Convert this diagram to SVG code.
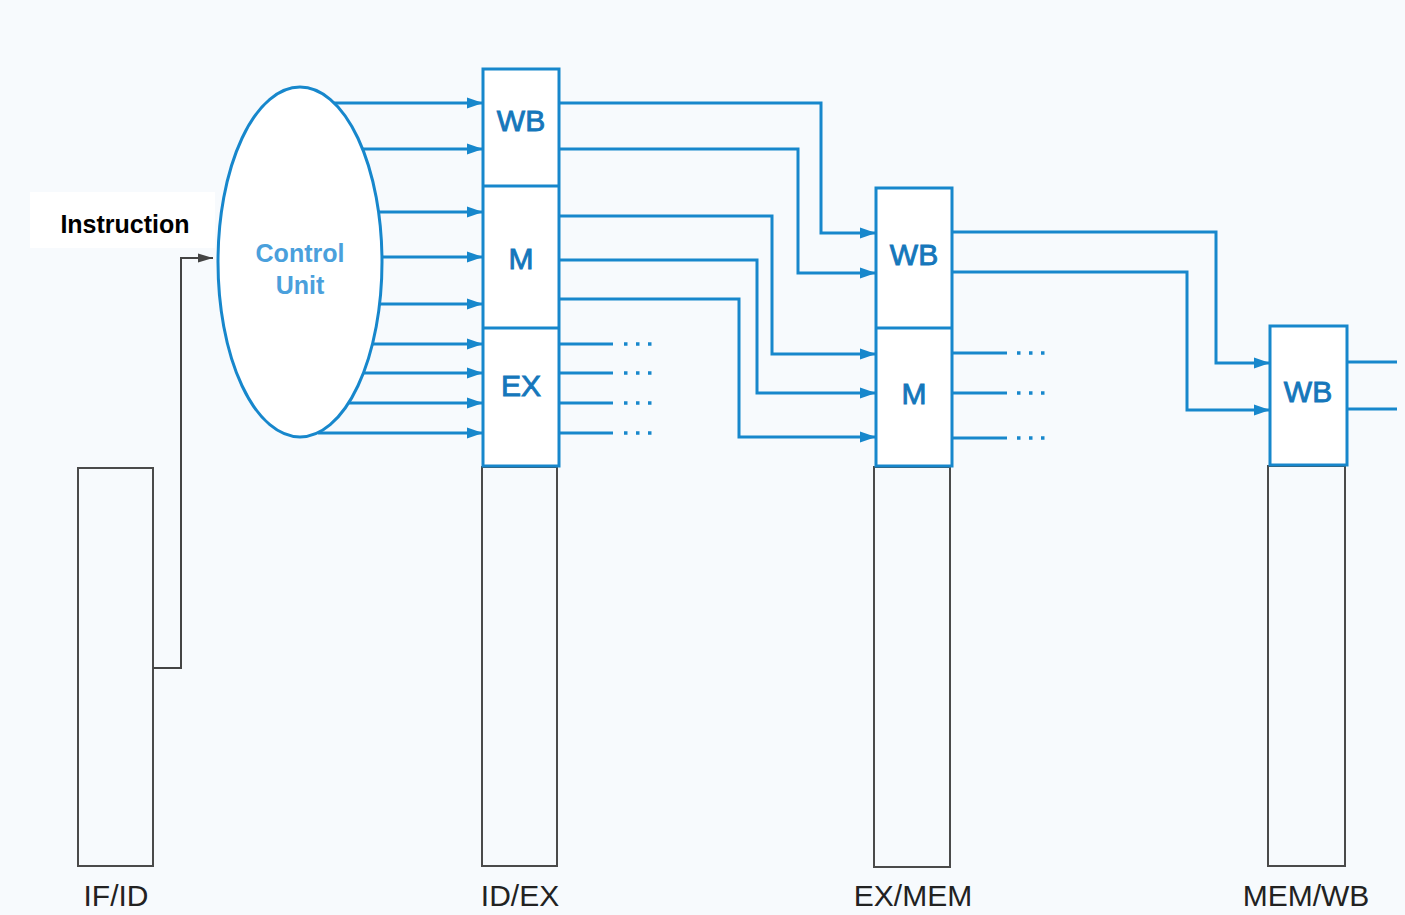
<svg xmlns="http://www.w3.org/2000/svg" width="1405" height="915" viewBox="0 0 1405 915">
  <defs>
    <marker id="ab" markerWidth="17" markerHeight="12" refX="16" refY="6" orient="auto" markerUnits="userSpaceOnUse">
      <path d="M0,0.5 L16,6 L0,11.5 Z" fill="#1787cc"/>
    </marker>
    <marker id="ag" markerWidth="16" markerHeight="12" refX="15" refY="6" orient="auto" markerUnits="userSpaceOnUse">
      <path d="M0,1.5 L15,6 L0,10.5 Z" fill="#444"/>
    </marker>
  </defs>
  <style>
    .bl { fill: none; stroke: #1787cc; stroke-width: 3; }
    .ba { fill: none; stroke: #1787cc; stroke-width: 3; marker-end: url(#ab); }
    .dots { fill: none; stroke: #1787cc; stroke-width: 3.5; stroke-dasharray: 3.5 8.5; }
    .gbox { fill: none; stroke: #4a4a4a; stroke-width: 2; }
    .bbox { fill: #ffffff; stroke: #1787cc; stroke-width: 3; }
    .lbl { font-family: "Liberation Sans", Arial, sans-serif; font-size: 30px; fill: #1577bb; stroke: #1577bb; stroke-width: 0.9; text-anchor: middle; }
    .reg { font-family: "Liberation Sans", Arial, sans-serif; font-size: 30px; fill: #222; text-anchor: middle; }
  </style>
  <rect x="0" y="0" width="1405" height="915" fill="#f7fafd"/>
  <rect x="30" y="192" width="185" height="56" fill="#ffffff"/>

  <g id="if-id">
    <rect class="gbox" x="78" y="468" width="75" height="398"/>
    <text class="reg" x="116" y="906">IF/ID</text>
  </g>

  <g id="instruction">
    <text x="125" y="233" font-family="Liberation Sans, Arial, sans-serif" font-size="25" font-weight="bold" fill="#000" text-anchor="middle">Instruction</text>
  </g>

  <g id="control-unit">
    <ellipse cx="300" cy="262" rx="82" ry="175" fill="#ffffff" stroke="#1787cc" stroke-width="3"/>
    <rect x="226" y="229" width="146" height="84" fill="#ffffff"/>
    <text x="300" y="262" font-family="Liberation Sans, Arial, sans-serif" font-size="25" font-weight="bold" fill="#4aa0dc" text-anchor="middle">Control</text>
    <text x="300" y="294" font-family="Liberation Sans, Arial, sans-serif" font-size="25" font-weight="bold" fill="#4aa0dc" text-anchor="middle">Unit</text>
  </g>

  <g id="id-ex">
    <rect class="gbox" x="482" y="467" width="75" height="399"/>
    <rect class="bbox" x="483" y="69" width="76" height="397"/>
    <line class="bl" x1="483" y1="186" x2="559" y2="186"/>
    <line class="bl" x1="483" y1="328" x2="559" y2="328"/>
    <text class="lbl" x="521" y="131">WB</text>
    <text class="lbl" x="521" y="269">M</text>
    <text class="lbl" x="521" y="396">EX</text>
    <text class="reg" x="520" y="906">ID/EX</text>
  </g>

  <g id="ex-mem">
    <rect class="gbox" x="874" y="467" width="76" height="400"/>
    <rect class="bbox" x="876" y="188" width="76" height="278"/>
    <line class="bl" x1="876" y1="328" x2="952" y2="328"/>
    <text class="lbl" x="914" y="265">WB</text>
    <text class="lbl" x="914" y="404">M</text>
    <text class="reg" x="913" y="906">EX/MEM</text>
  </g>

  <g id="mem-wb">
    <rect class="gbox" x="1268" y="466" width="77" height="400"/>
    <rect class="bbox" x="1270" y="326" width="77" height="139"/>
    <text class="lbl" x="1308" y="402">WB</text>
    <text class="reg" x="1306" y="906">MEM/WB</text>
  </g>

  <g id="connectors">
    <polyline fill="none" stroke="#444" stroke-width="2" marker-end="url(#ag)" points="153,668 181,668 181,258 213,258"/>

    <line class="ba" x1="334" y1="103" x2="483" y2="103"/>
    <line class="ba" x1="363" y1="149" x2="483" y2="149"/>
    <line class="ba" x1="378" y1="212" x2="483" y2="212"/>
    <line class="ba" x1="382" y1="257" x2="483" y2="257"/>
    <line class="ba" x1="380" y1="304" x2="483" y2="304"/>
    <line class="ba" x1="372" y1="344" x2="483" y2="344"/>
    <line class="ba" x1="363" y1="373" x2="483" y2="373"/>
    <line class="ba" x1="349" y1="403" x2="483" y2="403"/>
    <line class="ba" x1="318" y1="433" x2="483" y2="433"/>

    <polyline class="ba" points="559,103 821,103 821,233 876,233"/>
    <polyline class="ba" points="559,149 798,149 798,273 876,273"/>
    <polyline class="ba" points="559,216 772,216 772,354 876,354"/>
    <polyline class="ba" points="559,260 757,260 757,393 876,393"/>
    <polyline class="ba" points="559,299 739,299 739,437 876,437"/>

    <line class="bl" x1="559" y1="344" x2="613" y2="344"/>
    <line class="bl" x1="559" y1="373" x2="613" y2="373"/>
    <line class="bl" x1="559" y1="403" x2="613" y2="403"/>
    <line class="bl" x1="559" y1="433" x2="613" y2="433"/>
    <line class="dots" x1="624" y1="344" x2="652" y2="344"/>
    <line class="dots" x1="624" y1="373" x2="652" y2="373"/>
    <line class="dots" x1="624" y1="403" x2="652" y2="403"/>
    <line class="dots" x1="624" y1="433" x2="652" y2="433"/>

    <polyline class="ba" points="952,232 1216,232 1216,363 1270,363"/>
    <polyline class="ba" points="952,272 1187,272 1187,410 1270,410"/>

    <line class="bl" x1="952" y1="353" x2="1007" y2="353"/>
    <line class="bl" x1="952" y1="393" x2="1007" y2="393"/>
    <line class="bl" x1="952" y1="438" x2="1007" y2="438"/>
    <line class="dots" x1="1017" y1="353" x2="1046" y2="353"/>
    <line class="dots" x1="1017" y1="393" x2="1046" y2="393"/>
    <line class="dots" x1="1017" y1="438" x2="1046" y2="438"/>

    <line class="bl" x1="1347" y1="362" x2="1397" y2="362"/>
    <line class="bl" x1="1347" y1="409" x2="1397" y2="409"/>
  </g>
</svg>
